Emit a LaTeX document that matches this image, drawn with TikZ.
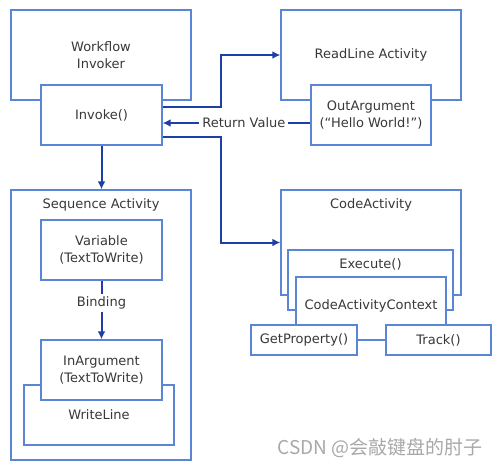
\documentclass[tikz,border=0pt]{standalone}
\usepackage{fontspec}
\setmainfont{DejaVu Sans}
\newfontfamily\cjkfont{Noto Sans CJK SC}
\usetikzlibrary{arrows.meta}

\definecolor{boxblue}{HTML}{5B86D6}
\definecolor{flowblue}{HTML}{1D3FA6}
\definecolor{textgray}{HTML}{383838}
\definecolor{markgray}{HTML}{A8A8A8}

\tikzset{box/.style={draw=boxblue,fill=white,line width=1.4pt,inner sep=0pt,align=center,text=textgray,font=\fontsize{13}{16.5}\selectfont},
flow/.style={draw=flowblue,line width=2pt,-{Latex[length=8pt,width=8pt]}},
flowlabel/.style={fill=white,text=textgray,inner sep=3pt,font=\fontsize{13}{16.5}\selectfont},
toplabel/.style={anchor=center,text=textgray,font=\fontsize{13}{16.5}\selectfont}}

\begin{document}
\begin{tikzpicture}[x=1pt,y=-1pt]
\useasboundingbox (0,0) rectangle (501,467);

%% invoker
\node [box,minimum width=180pt,minimum height=90pt] (wfi) at (101,55) {Workflow\\Invoker};
\node [box,minimum width=121pt,minimum height=60pt] (invoke) at (101.5,115) {Invoke()};

%% readline activity
\node [box,minimum width=180pt,minimum height=90pt] (readline) at (371,55) {ReadLine Activity};
\node [box,minimum width=120pt,minimum height=60pt] (outarg) at (371,115) {OutArgument\\(``Hello World!'')};

%% sequence activity
\node [box,minimum width=180pt,minimum height=270pt,label={[toplabel,yshift=-16pt]north:Sequence Activity}] (seq) at (101,325) {};
\node [box,minimum width=121pt,minimum height=60pt] (variable) at (101.5,250) {Variable\\(TextToWrite)};
\node [box,minimum width=150pt,minimum height=60pt,label={[toplabel,yshift=-30pt]north:WriteLine}] (writeline) at (99,415) {};
\node [box,minimum width=121pt,minimum height=60pt] (inarg) at (101.5,370) {InArgument\\(TextToWrite)};

%% code activity
\node [box,minimum width=180pt,minimum height=105pt,label={[toplabel,yshift=-16pt]north:CodeActivity}] (codeact) at (371,242.5) {};
\node [box,minimum width=165pt,minimum height=60pt,label={[toplabel,yshift=-15pt]north:Execute()}] (execute) at (370.5,280) {};
\node [box,minimum width=150pt,minimum height=63pt,label={[toplabel,yshift=-30pt]north:CodeActivityContext}] (context) at (371,308.5) {};
\node [box,minimum width=106pt,minimum height=30pt] (getprop) at (304,340) {GetProperty()};
\node [box,minimum width=105pt,minimum height=30pt] (track) at (438.5,340) {Track()};
\draw [draw=boxblue,line width=1.4pt] (getprop) -- (track);

%% flows
\draw [flow] ([yshift=8pt]invoke.east) -- ++(58,0) |- (readline.west);
\draw [flow] ([yshift=-22pt]invoke.east) -- ++(58,0) |- (codeact.west);
\draw [flow] ([yshift=-8pt]outarg.west) -- node [flowlabel,pos=0.45] {Return Value} ([yshift=-8pt]invoke.east);
\draw [flow] (invoke.south) -- (invoke.south |- seq.north);
\draw [flow] (variable.south) -- node [flowlabel,pos=0.38] {Binding} (inarg.north);

%% watermark
\node [text=markgray,font=\cjkfont\fontsize{19}{21}\selectfont] (wmark) at (380,448) {CSDN @会敲键盘的肘子};
\end{tikzpicture}
\end{document}
